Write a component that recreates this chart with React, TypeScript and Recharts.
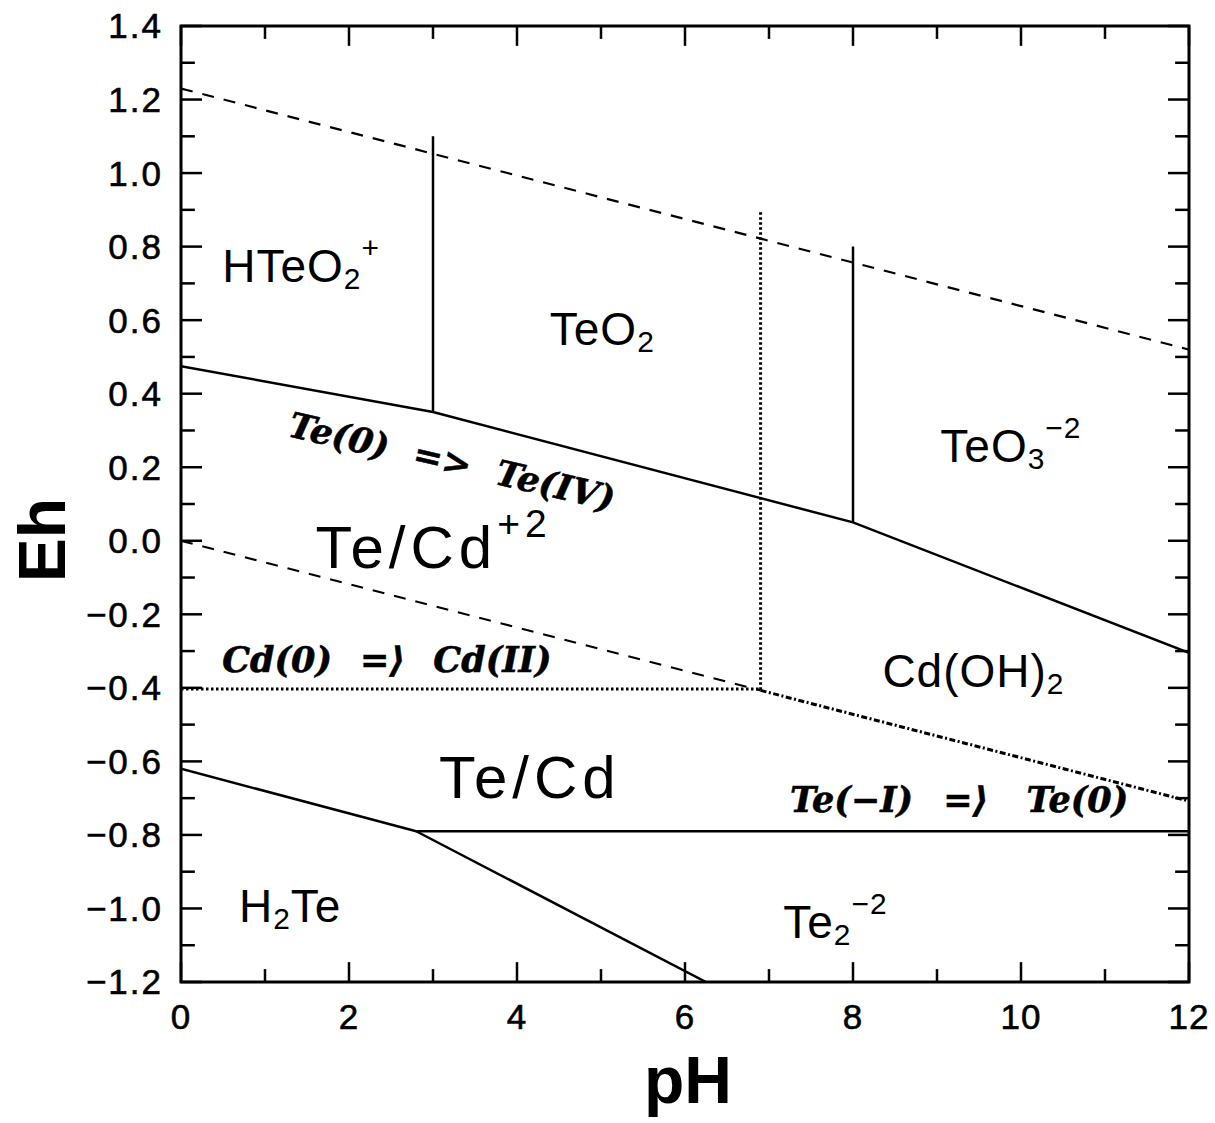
import React from "react";
import { LineChart, Line, XAxis, YAxis, ReferenceLine, ReferenceArea, ReferenceDot, Label } from "recharts";

// ---- axis ticks ----
const phTicks = [0, 2, 4, 6, 8, 10, 12];
const phMinorTicks = [1, 3, 5, 7, 9, 11];
const ehTicks = [-1.2, -1.0, -0.8, -0.6, -0.4, -0.2, 0.0, 0.2, 0.4, 0.6, 0.8, 1.0, 1.2, 1.4];
const ehMinorTicks = [-1.1, -0.9, -0.7, -0.5, -0.3, -0.1, 0.1, 0.3, 0.5, 0.7, 0.9, 1.1, 1.3];

// ---- boundary lines (pH, Eh) ----
const o2WaterLine = [{ ph: 0, eh: 1.23 }, { ph: 12, eh: 0.52 }];
const h2WaterDashed = [{ ph: 0, eh: 0.0 }, { ph: 6.9, eh: -0.407 }];
const h2WaterDashDot = [{ ph: 6.9, eh: -0.407 }, { ph: 12, eh: -0.708 }];
const te0TeIVLine = [
  { ph: 0, eh: 0.475 },
  { ph: 3, eh: 0.35 },
  { ph: 8, eh: 0.05 },
  { ph: 12, eh: -0.305 },
];
const hteo2Boundary = [{ ph: 3, eh: 0.35 }, { ph: 3, eh: 1.1 }];
const teo3Boundary = [{ ph: 8, eh: 0.05 }, { ph: 8, eh: 0.8 }];
const cdOHBoundary = [{ ph: 6.9, eh: -0.405 }, { ph: 6.9, eh: 0.9 }];
const cd0CdIILine = [{ ph: 0, eh: -0.403 }, { ph: 6.9, eh: -0.403 }];
const h2TeUpper = [{ ph: 0, eh: -0.62 }, { ph: 2.8, eh: -0.79 }];
const h2TeLower = [{ ph: 2.8, eh: -0.79 }, { ph: 6.25, eh: -1.2 }];
const te2Line = [{ ph: 2.8, eh: -0.79 }, { ph: 12, eh: -0.79 }];

// ---- annotations (anchor in pH / Eh units) ----
type Part = { t: string; k?: "sub" | "sup" };
const regionLabels: { ph: number; eh: number; parts: Part[]; big?: boolean }[] = [
  { ph: 0.49, eh: 0.704, parts: [{ t: "HTeO" }, { t: "2", k: "sub" }, { t: "+", k: "sup" }] },
  { ph: 4.39, eh: 0.532, parts: [{ t: "TeO" }, { t: "2", k: "sub" }] },
  { ph: 9.04, eh: 0.214, parts: [{ t: "TeO" }, { t: "3", k: "sub" }, { t: "−2", k: "sup" }] },
  { ph: 1.6, eh: -0.074, parts: [{ t: "Te/Cd" }, { t: "+2", k: "sup" }], big: true },
  { ph: 8.35, eh: -0.398, parts: [{ t: "Cd(OH)" }, { t: "2", k: "sub" }] },
  { ph: 3.07, eh: -0.7, parts: [{ t: "Te/Cd" }], big: true },
  { ph: 0.69, eh: -1.037, parts: [{ t: "H" }, { t: "2", k: "sub" }, { t: "Te" }] },
  { ph: 7.17, eh: -1.08, parts: [{ t: "Te" }, { t: "2", k: "sub" }, { t: "−2", k: "sup" }] },
];

const reactionLabels: { ph: number; eh: number; groups: string[]; gaps: number[]; angle: number }[] = [
  { ph: 1.26, eh: 0.285, groups: ["Te(0)", "=>", "Te(IV)"], gaps: [26, 26], angle: 13 },
  { ph: 0.49, eh: -0.357, groups: ["Cd(0)", "=⟩", "Cd(II)"], gaps: [28, 28], angle: 0 },
  { ph: 7.25, eh: -0.738, groups: ["Te(−I)", "=⟩", "Te(0)"], gaps: [30, 38], angle: 0 },
];

const SANS = "'Liberation Sans', Arial, Helvetica, sans-serif";
const SERIF = "'DejaVu Serif', 'Liberation Serif', serif";

function getXY(p: any) {
  const vb = p && p.viewBox ? p.viewBox : p;
  return { x: vb.x + (vb.width || 0) / 2, y: vb.y + (vb.height || 0) / 2 };
}

function renderRegion(item: { parts: Part[]; big?: boolean }) {
  return (p: any) => {
    const { x, y } = getXY(p);
    const size = item.big ? 60 : 46;
    let cur = 0;
    const spans = item.parts.map((part, i) => {
      const target = part.k === "sub" ? size * 0.15 : part.k === "sup" ? -size * 0.52 : 0;
      const dy = target - cur;
      cur = target;
      return (
        <tspan key={i} dy={dy} fontSize={part.k ? size * 0.65 : size}>
          {part.t}
        </tspan>
      );
    });
    return (
      <text x={x} y={y} fontFamily={SANS} fill="#000" letterSpacing={item.big ? 5 : 1}>
        {spans}
      </text>
    );
  };
}

function renderReaction(item: { groups: string[]; gaps: number[]; angle: number }) {
  return (p: any) => {
    const { x, y } = getXY(p);
    return (
      <text
        x={x}
        y={y}
        fontFamily={SERIF}
        fontWeight="bold"
        fontStyle="italic"
        fontSize={35}
        fill="#000"
        stroke="#000"
        strokeWidth={0.6}
        transform={item.angle ? `rotate(${item.angle} ${x} ${y})` : undefined}
      >
        {item.groups.map((g, i) => (
          <tspan key={i} dx={i === 0 ? 0 : item.gaps[i - 1]}>
            {g}
          </tspan>
        ))}
      </text>
    );
  };
}

const fmtEh = (v: number) => v.toFixed(1).replace("-", "−");

const lineCommon = {
  dataKey: "eh",
  stroke: "#000",
  dot: false,
  activeDot: false,
  isAnimationActive: false,
  type: "linear" as const,
  legendType: "none" as const,
};

const tickStyle = { fontSize: 35, fill: "#000", fontFamily: SANS, stroke: "#000", strokeWidth: 0.6 };

export default function App() {
  const majX = 0.054; // tick lengths in Eh units
  const minX = 0.035;
  const majY = 0.25; // tick lengths in pH units
  const minY = 0.165;
  return (
    <div style={{ position: "absolute", left: 0, top: 0, width: 1215, height: 1123, background: "#fff", overflow: "hidden" }}>
      <LineChart width={1215} height={1123} margin={{ top: 26, right: 26, bottom: 0, left: 0 }}>
        <XAxis
          type="number"
          dataKey="ph"
          domain={[0, 12]}
          ticks={phTicks}
          allowDataOverflow
          axisLine={false}
          tickLine={false}
          tickSize={0}
          tickMargin={22}
          height={141}
          tick={{ ...tickStyle, letterSpacing: 1 }}
          label={
            <Label
              content={(p: any) => {
                const vb = p.viewBox;
                return (
                  <text
                    x={vb.x + vb.width / 2 + 3}
                    y={vb.y + 121}
                    textAnchor="middle"
                    fontFamily={SANS}
                    fontWeight="bold"
                    fontSize={66}
                    fill="#000"
                  >
                    pH
                  </text>
                );
              }}
            />
          }
        />
        <YAxis
          type="number"
          dataKey="eh"
          domain={[-1.2, 1.4]}
          ticks={ehTicks}
          allowDataOverflow
          axisLine={false}
          tickLine={false}
          tickSize={0}
          tickMargin={18}
          width={181}
          tickFormatter={fmtEh}
          tick={{ ...tickStyle, letterSpacing: 2 }}
          label={
            <Label
              content={(p: any) => {
                const vb = p.viewBox;
                const x = vb.x + 65;
                const y = vb.y + vb.height / 2 + 36;
                return (
                  <text
                    x={x}
                    y={y}
                    textAnchor="middle"
                    fontFamily={SANS}
                    fontWeight="bold"
                    fontSize={66}
                    fill="#000"
                    transform={`rotate(-90 ${x} ${y})`}
                  >
                    Eh
                  </text>
                );
              }}
            />
          }
        />

        {/* frame */}
        <ReferenceArea x1={0} x2={12} y1={-1.2} y2={1.4} fill="none" fillOpacity={0} stroke="#000" strokeWidth={3} ifOverflow="visible" />

        {/* inward ticks */}
        {phTicks.map((v) => (
          <ReferenceLine key={`xb${v}`} segment={[{ x: v, y: -1.2 }, { x: v, y: -1.2 + majX }]} stroke="#000" strokeWidth={2.5} ifOverflow="visible" />
        ))}
        {phTicks.map((v) => (
          <ReferenceLine key={`xt${v}`} segment={[{ x: v, y: 1.4 }, { x: v, y: 1.4 - majX }]} stroke="#000" strokeWidth={2.5} ifOverflow="visible" />
        ))}
        {phMinorTicks.map((v) => (
          <ReferenceLine key={`xbm${v}`} segment={[{ x: v, y: -1.2 }, { x: v, y: -1.2 + minX }]} stroke="#000" strokeWidth={2.5} ifOverflow="visible" />
        ))}
        {phMinorTicks.map((v) => (
          <ReferenceLine key={`xtm${v}`} segment={[{ x: v, y: 1.4 }, { x: v, y: 1.4 - minX }]} stroke="#000" strokeWidth={2.5} ifOverflow="visible" />
        ))}
        {ehTicks.map((v) => (
          <ReferenceLine key={`yl${v}`} segment={[{ x: 0, y: v }, { x: majY, y: v }]} stroke="#000" strokeWidth={2.5} ifOverflow="visible" />
        ))}
        {ehTicks.map((v) => (
          <ReferenceLine key={`yr${v}`} segment={[{ x: 12, y: v }, { x: 12 - majY, y: v }]} stroke="#000" strokeWidth={2.5} ifOverflow="visible" />
        ))}
        {ehMinorTicks.map((v) => (
          <ReferenceLine key={`ylm${v}`} segment={[{ x: 0, y: v }, { x: minY, y: v }]} stroke="#000" strokeWidth={2.5} ifOverflow="visible" />
        ))}
        {ehMinorTicks.map((v) => (
          <ReferenceLine key={`yrm${v}`} segment={[{ x: 12, y: v }, { x: 12 - minY, y: v }]} stroke="#000" strokeWidth={2.5} ifOverflow="visible" />
        ))}

        {/* boundaries */}
        <Line {...lineCommon} data={o2WaterLine} strokeWidth={2.2} strokeDasharray="12 10" />
        <Line {...lineCommon} data={h2WaterDashed} strokeWidth={2.2} strokeDasharray="12 10" />
        <Line {...lineCommon} data={h2WaterDashDot} strokeWidth={3} strokeDasharray="6 2.5 2 2.5" />
        <Line {...lineCommon} data={te0TeIVLine} strokeWidth={2.5} />
        <Line {...lineCommon} data={hteo2Boundary} strokeWidth={2.5} />
        <Line {...lineCommon} data={teo3Boundary} strokeWidth={2.5} />
        <Line {...lineCommon} data={cdOHBoundary} strokeWidth={3} strokeDasharray="2.5 2.5" />
        <Line {...lineCommon} data={cd0CdIILine} strokeWidth={3} strokeDasharray="2.5 2.5" />
        <Line {...lineCommon} data={h2TeUpper} strokeWidth={2.5} />
        <Line {...lineCommon} data={h2TeLower} strokeWidth={2.5} />
        <Line {...lineCommon} data={te2Line} strokeWidth={2.5} />

        {/* annotations */}
        {regionLabels.map((item, i) => (
          <ReferenceDot key={`r${i}`} x={item.ph} y={item.eh} r={0} fill="none" stroke="none" label={renderRegion(item)} />
        ))}
        {reactionLabels.map((item, i) => (
          <ReferenceDot key={`t${i}`} x={item.ph} y={item.eh} r={0} fill="none" stroke="none" label={renderReaction(item)} />
        ))}
      </LineChart>
    </div>
  );
}
